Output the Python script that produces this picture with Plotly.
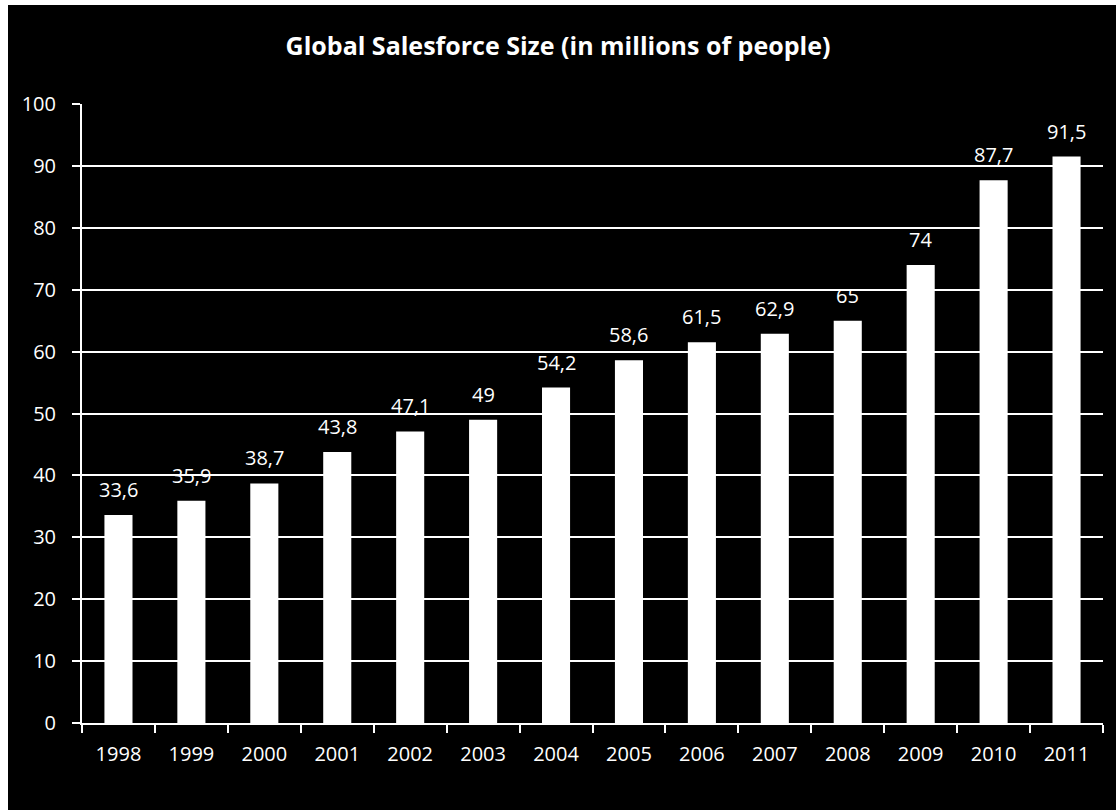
import plotly.graph_objects as go

years = ["1998", "1999", "2000", "2001", "2002", "2003", "2004",
         "2005", "2006", "2007", "2008", "2009", "2010", "2011"]
sales_force = [33.6, 35.9, 38.7, 43.8, 47.1, 49, 54.2,
               58.6, 61.5, 62.9, 65, 74, 87.7, 91.5]
y_ticks = [0, 10, 20, 30, 40, 50, 60, 70, 80, 90, 100]

labels = [("%g" % v).replace(".", ",") for v in sales_force]

FONT = "Open Sans"
W, H = 1116, 810
ML, MR, MT, MB = 82, 13, 104, 87
PW, PH = W - ML - MR, H - MT - MB

fig = go.Figure(go.Bar(
    x=years, y=sales_force,
    marker=dict(color="white", line=dict(width=0)),
    hoverinfo="x+y",
))

annotations = [
    dict(x=i, y=v, xref="x", yref="y", text=t, showarrow=False,
         yanchor="bottom", xanchor="center", yshift=10,
         font=dict(color="white", size=20, family=FONT))
    for i, (v, t) in enumerate(zip(sales_force, labels))
]

# black chart frame on a thin white page border (top and left)
frame = dict(type="rect", xref="paper", yref="paper", layer="below",
             x0=(8 - ML) / PW, x1=1.2, y0=-0.3, y1=(H - MB - 5) / PH,
             fillcolor="black", line=dict(width=0))

fig.update_layout(
    width=W, height=H,
    paper_bgcolor="white", plot_bgcolor="rgba(0,0,0,0)",
    margin=dict(l=ML, r=MR, t=MT, b=MB),
    bargap=0.615,
    showlegend=False,
    shapes=[frame],
    annotations=annotations,
    title=dict(text="<b>Global Salesforce Size (in millions of people)</b>",
               x=0.5, xanchor="center", y=1 - 46 / H, yanchor="middle",
               font=dict(color="white", size=25, family=FONT)),
    font=dict(family=FONT, color="white"),
)
fig.update_xaxes(
    type="category", categoryorder="array", categoryarray=years,
    range=[-0.5, len(years) - 0.5],
    showgrid=False, tickson="boundaries",
    ticks="outside", ticklen=8, tickcolor="white", tickwidth=2,
    showline=True, linecolor="white", linewidth=2,
    ticklabelstandoff=12, tickangle=0,
    tickfont=dict(color="white", size=20, family=FONT),
)
fig.update_yaxes(
    range=[0, 100], tickvals=y_ticks,
    showgrid=True, gridcolor="white", gridwidth=2,
    zeroline=False,
    ticks="outside", ticklen=8, tickcolor="white", tickwidth=2,
    showline=True, linecolor="white", linewidth=2,
    ticklabelstandoff=12,
    tickfont=dict(color="white", size=20, family=FONT),
)

fig.write_html("out.html")
